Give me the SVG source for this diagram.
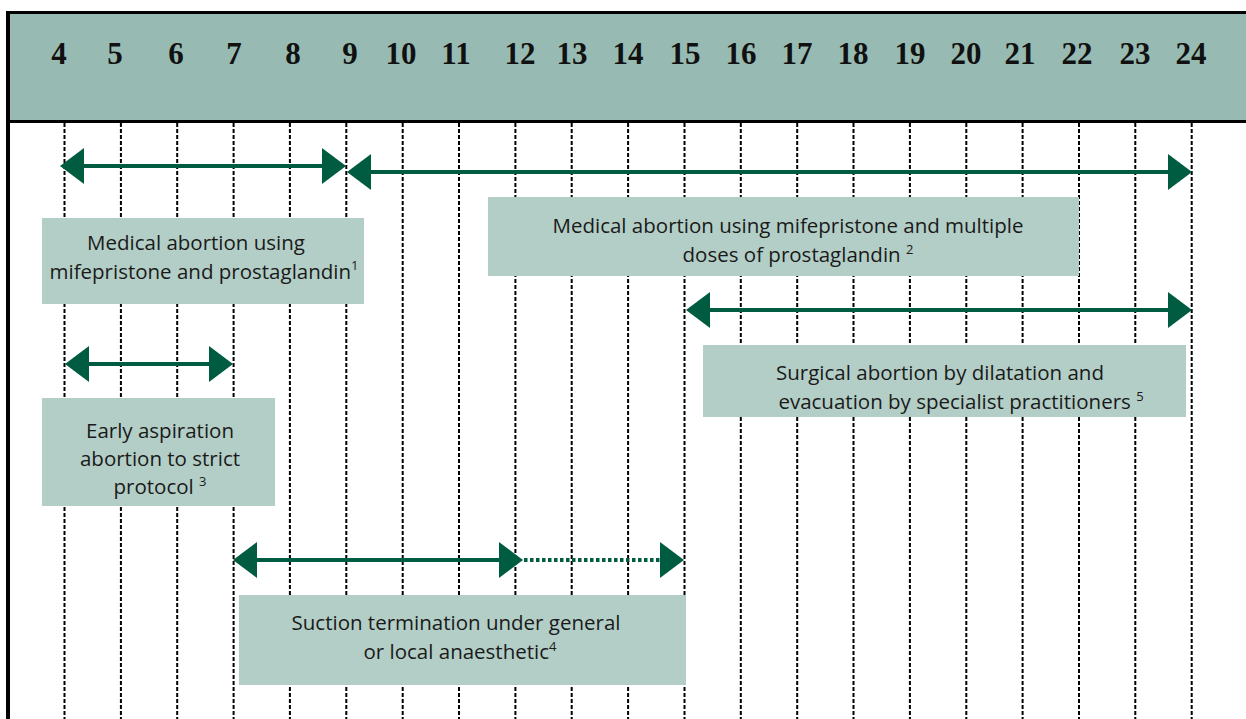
<svg xmlns="http://www.w3.org/2000/svg" width="1246" height="719" viewBox="0 0 1246 719">
<style>
.grid line{stroke:#000;stroke-width:2;stroke-dasharray:4 2}
.num{font-family:"Liberation Serif",serif;font-weight:bold;font-size:31px;fill:#111;text-anchor:middle}
.box{fill:#b3cec6}
.lbl{font-family:"Open Sans",sans-serif;font-size:20.5px;fill:#1a1a1a;text-anchor:middle}
.sup{font-size:13px}
.arr{stroke:#005c40;stroke-width:4;fill:none}
.dot{stroke:#005c40;stroke-width:4;fill:none;stroke-dasharray:3.5 2.5}
</style>
<defs>
<marker id="ah" markerUnits="userSpaceOnUse" markerWidth="24" markerHeight="36" refX="4" refY="18" orient="auto-start-reverse" viewBox="0 0 24 36">
<path d="M0,0 L24,18 L0,36 z" fill="#005c40"/>
</marker>
</defs>
<rect x="0" y="0" width="1246" height="719" fill="#fff"/>
<g id="header">
<rect x="8" y="12" width="1238" height="110" fill="#97bbb2"/>
<line x1="6" y1="12.5" x2="1246" y2="12.5" stroke="#000" stroke-width="3"/>
<line x1="8" y1="121.5" x2="1246" y2="121.5" stroke="#000" stroke-width="3"/>
<line x1="8" y1="11" x2="8" y2="719" stroke="#000" stroke-width="4"/>
<text class="num" x="59" y="64">4</text>
<text class="num" x="115" y="64">5</text>
<text class="num" x="176" y="64">6</text>
<text class="num" x="234" y="64">7</text>
<text class="num" x="293" y="64">8</text>
<text class="num" x="350" y="64">9</text>
<text class="num" x="401" y="64">10</text>
<text class="num" x="456" y="64">11</text>
<text class="num" x="520" y="64">12</text>
<text class="num" x="572" y="64">13</text>
<text class="num" x="628" y="64">14</text>
<text class="num" x="685" y="64">15</text>
<text class="num" x="741" y="64">16</text>
<text class="num" x="797" y="64">17</text>
<text class="num" x="853" y="64">18</text>
<text class="num" x="910" y="64">19</text>
<text class="num" x="966" y="64">20</text>
<text class="num" x="1020" y="64">21</text>
<text class="num" x="1077" y="64">22</text>
<text class="num" x="1135" y="64">23</text>
<text class="num" x="1191" y="64">24</text>
</g>
<g class="grid" id="grid">
<line x1="64.5" y1="123" x2="64.5" y2="719"/>
<line x1="120.9" y1="123" x2="120.9" y2="719"/>
<line x1="177.2" y1="123" x2="177.2" y2="719"/>
<line x1="233.6" y1="123" x2="233.6" y2="719"/>
<line x1="289.9" y1="123" x2="289.9" y2="719"/>
<line x1="346.3" y1="123" x2="346.3" y2="719"/>
<line x1="402.7" y1="123" x2="402.7" y2="719"/>
<line x1="459" y1="123" x2="459" y2="719"/>
<line x1="515.4" y1="123" x2="515.4" y2="719"/>
<line x1="571.7" y1="123" x2="571.7" y2="719"/>
<line x1="628.1" y1="123" x2="628.1" y2="719"/>
<line x1="684.5" y1="123" x2="684.5" y2="719"/>
<line x1="740.8" y1="123" x2="740.8" y2="719"/>
<line x1="797.2" y1="123" x2="797.2" y2="719"/>
<line x1="853.5" y1="123" x2="853.5" y2="719"/>
<line x1="909.9" y1="123" x2="909.9" y2="719"/>
<line x1="966.3" y1="123" x2="966.3" y2="719"/>
<line x1="1022.6" y1="123" x2="1022.6" y2="719"/>
<line x1="1079" y1="123" x2="1079" y2="719"/>
<line x1="1135.3" y1="123" x2="1135.3" y2="719"/>
<line x1="1191.7" y1="123" x2="1191.7" y2="719"/>
</g>
<g id="connectors">
<line class="arr" x1="80" y1="166" x2="326" y2="166" marker-start="url(#ah)" marker-end="url(#ah)"/>
<line class="arr" x1="367" y1="172" x2="1172" y2="172" marker-start="url(#ah)" marker-end="url(#ah)"/>
<line class="arr" x1="706" y1="310" x2="1172" y2="310" marker-start="url(#ah)" marker-end="url(#ah)"/>
<line class="arr" x1="85" y1="364" x2="213" y2="364" marker-start="url(#ah)" marker-end="url(#ah)"/>
<line class="arr" x1="253" y1="560" x2="503" y2="560" marker-start="url(#ah)" marker-end="url(#ah)"/>
<line class="dot" x1="524" y1="560" x2="664" y2="560" marker-end="url(#ah)"/>
</g>
<g id="node-medical-1">
<rect class="box" x="42" y="218" width="322" height="86"/>
<text class="lbl" x="196" y="250">Medical abortion using</text>
<text class="lbl" x="204" y="279">mifepristone and prostaglandin<tspan class="sup" dy="-9">1</tspan></text>
</g>
<g id="node-medical-2">
<rect class="box" x="488" y="197" width="591" height="79"/>
<text class="lbl" x="788" y="233">Medical abortion using mifepristone and multiple</text>
<text class="lbl" x="798" y="262">doses of prostaglandin <tspan class="sup" dy="-8">2</tspan></text>
</g>
<g id="node-surgical">
<rect class="box" x="703" y="345" width="483" height="72"/>
<text class="lbl" x="940" y="380">Surgical abortion by dilatation and</text>
<text class="lbl" x="961" y="409">evacuation by specialist practitioners <tspan class="sup" dy="-8">5</tspan></text>
</g>
<g id="node-early">
<rect class="box" x="42" y="398" width="233" height="108"/>
<text class="lbl" x="160" y="438">Early aspiration</text>
<text class="lbl" x="160" y="466">abortion to strict</text>
<text class="lbl" x="160" y="494">protocol <tspan class="sup" dy="-8">3</tspan></text>
</g>
<g id="node-suction">
<rect class="box" x="239" y="595" width="447" height="90"/>
<text class="lbl" x="456" y="630">Suction termination under general</text>
<text class="lbl" x="460" y="659">or local anaesthetic<tspan class="sup" dy="-8">4</tspan></text>
</g>
</svg>
